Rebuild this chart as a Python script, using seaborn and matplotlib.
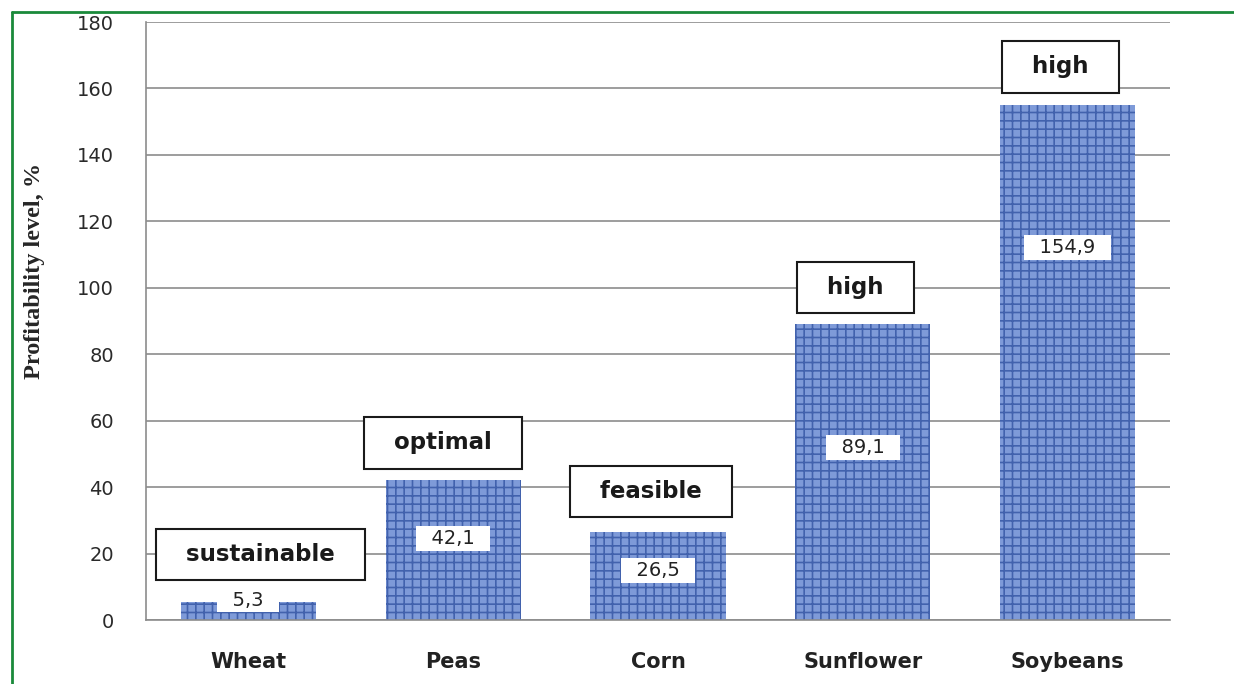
import matplotlib
matplotlib.use("Agg")
import matplotlib.pyplot as plt
import seaborn as sns
import pandas as pd

# Dados
culturas = ["Wheat", "Peas", "Corn", "Sunflower", "Soybeans"]
rentabilidade = [5.3, 42.1, 26.5, 89.1, 154.9]
rotulos_valor = ["5,3", "42,1", "26,5", "89,1", "154,9"]
niveis = ["sustainable", "optimal", "feasible", "high", "high"]

# Posições dos rótulos (em unidades dos eixos)
y_valor = [6.0, 24.5, 15.0, 52.0, 112.0]
y_nivel = [19.8, 53.3, 38.6, 100.0, 166.5]
dx_nivel = [0.06, -0.05, -0.035, -0.035, -0.035]

df = pd.DataFrame({"cultura": culturas, "valor": rentabilidade})

sns.set_style("white")
plt.rcParams["font.family"] = ["DejaVu Sans"]
plt.rcParams["hatch.color"] = "#4262ad"
plt.rcParams["hatch.linewidth"] = 1.2

fig = plt.figure(figsize=(12.34, 6.84), dpi=100)
ax = fig.add_axes([146 / 1234, 1 - 620 / 684, 1024 / 1234, 598 / 684])

sns.barplot(data=df, x="cultura", y="valor", color="#7e9ad8", width=0.66,
            saturation=1, ax=ax, zorder=2)
for p in ax.patches:
    p.set_hatch("++")
    p.set_edgecolor("#4262ad")
    p.set_linewidth(0)

ax.set_ylim(0, 180)
ax.set_xlim(-0.5, 4.5)
ax.set_yticks(range(0, 181, 20))
ax.yaxis.grid(True, color="#8c8c8c", linewidth=1.2, zorder=0)
ax.set_axisbelow(True)

for s in ["top", "right"]:
    ax.spines[s].set_visible(False)
for s in ["left", "bottom"]:
    ax.spines[s].set_color("#8c8c8c")
    ax.spines[s].set_linewidth(1.2)

ax.tick_params(axis="y", length=10, width=1.2, color="#8c8c8c", labelsize=14,
               labelcolor="#2a2a2a", direction="out", pad=13)
ax.set_xticks(range(len(culturas)))
ax.set_xticklabels(culturas, fontsize=15, fontweight="bold", color="#222222")
ax.tick_params(axis="x", length=0, pad=23)
ax.set_xticks([i - 0.5 for i in range(len(culturas) + 1)], minor=True)
ax.tick_params(axis="x", which="minor", length=6, width=1.2, color="#8c8c8c")

ax.set_xlabel("")
ax.set_ylabel("Profitability level, %", family="Liberation Serif", fontweight="bold",
              fontsize=17.5, va="center")
ax.yaxis.set_label_coords(-0.109, 0.584)

# Rótulos de valor
for i, txt in enumerate(rotulos_valor):
    ax.text(i, y_valor[i], "  " + txt + "  ", ha="center", va="center", fontsize=14,
            color="#222222", zorder=4,
            bbox=dict(boxstyle="square,pad=0.15", facecolor="white", edgecolor="none"))

# Rótulos de nível
for i, txt in enumerate(niveis):
    ax.text(i + dx_nivel[i], y_nivel[i], "  " + txt + "  ", ha="center", va="center",
            fontsize=16.5, fontweight="bold", color="#1a1a1a", zorder=5,
            bbox=dict(boxstyle="square,pad=0.62", facecolor="white",
                      edgecolor="#1a1a1a", linewidth=1.5))

# Moldura verde
fig.add_artist(plt.Line2D([12 / 1234, 12 / 1234], [0, 1 - 12 / 684], color="#1a8a3a",
                          linewidth=2, transform=fig.transFigure))
fig.add_artist(plt.Line2D([12 / 1234, 1], [1 - 12 / 684, 1 - 12 / 684], color="#1a8a3a",
                          linewidth=2, transform=fig.transFigure))

fig.savefig("out.png", dpi=100)
